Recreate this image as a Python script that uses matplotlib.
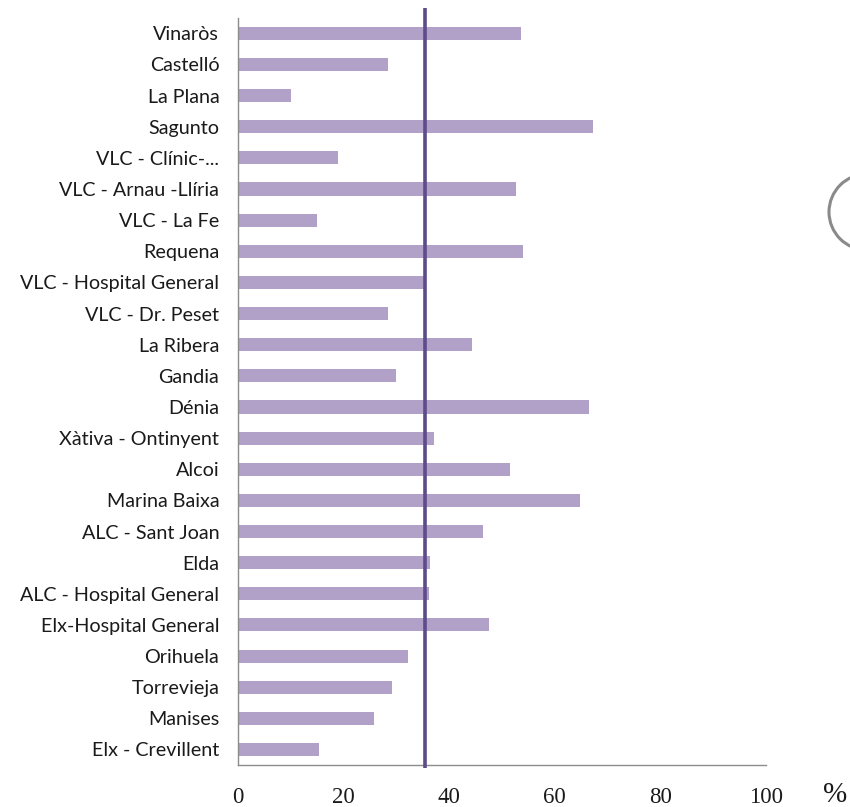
import matplotlib
matplotlib.use("Agg")
import matplotlib.pyplot as plt
from matplotlib.patches import Circle

# ── Data ──────────────────────────────────────────────────────────────────────
departments = [
    "Vinaròs", "Castelló", "La Plana", "Sagunto", "VLC - Clínic-...",
    "VLC - Arnau -Llíria", "VLC - La Fe", "Requena", "VLC - Hospital General",
    "VLC - Dr. Peset", "La Ribera", "Gandia", "Dénia", "Xàtiva - Ontinyent",
    "Alcoi", "Marina Baixa", "ALC - Sant Joan", "Elda", "ALC - Hospital General",
    "Elx-Hospital General", "Orihuela", "Torrevieja", "Manises", "Elx - Crevillent",
]
values = [
    53.6, 28.5, 10.0, 67.2, 19.0,
    52.7, 14.9, 54.0, 35.7,
    28.4, 44.3, 29.9, 66.5, 37.1,
    51.5, 64.8, 46.5, 36.3, 36.2,
    47.5, 32.3, 29.1, 25.8, 15.3,
]
average = 35.5
xticks = [0, 20, 40, 60, 80, 100]

BAR_COLOR = "#b1a0c7"
LINE_COLOR = "#5e4b8b"

fig = plt.figure(figsize=(8.5, 8.07), dpi=100)
ax = fig.add_axes([0.28, 0.052, 0.621, 0.926])

pos = list(range(len(departments)))
ax.barh(pos, values, height=0.42, color=BAR_COLOR, zorder=2)

ax.set_ylim(len(departments) - 0.5, -0.5)
ax.set_xlim(0, 100)

# average line, sticking out slightly above and below the plot area
ax.plot([average, average], [23.58, -0.8], color=LINE_COLOR, lw=2.6,
        clip_on=False, zorder=3, solid_capstyle="butt")

ax.set_yticks(pos)
ax.set_yticklabels(departments, family="Lato", fontsize=14.2, color="#1a1a1a")
ax.set_xticks(xticks)
ax.set_xticklabels([str(t) for t in xticks], family="Liberation Serif",
                   fontsize=16.5, color="#1a1a1a")
ax.tick_params(axis="both", length=0)
ax.tick_params(axis="y", pad=13.5)
ax.tick_params(axis="x", pad=15.5)

for side in ("top", "right"):
    ax.spines[side].set_visible(False)
for side in ("left", "bottom"):
    ax.spines[side].set_color("#8c8c8c")
    ax.spines[side].set_linewidth(1.0)

fig.text(835 / 850, 1 - 795 / 807, "%", family="Liberation Serif",
         fontsize=21, color="#1a1a1a", ha="center", va="center")

# partially visible gray circle at the right edge
circ = Circle((867, 807 - 212), 38, transform=None, fill=False,
              edgecolor="#8a8a8a", lw=2.2)
fig.patches.append(circ)

fig.savefig("out.png", dpi=100, facecolor="white")
